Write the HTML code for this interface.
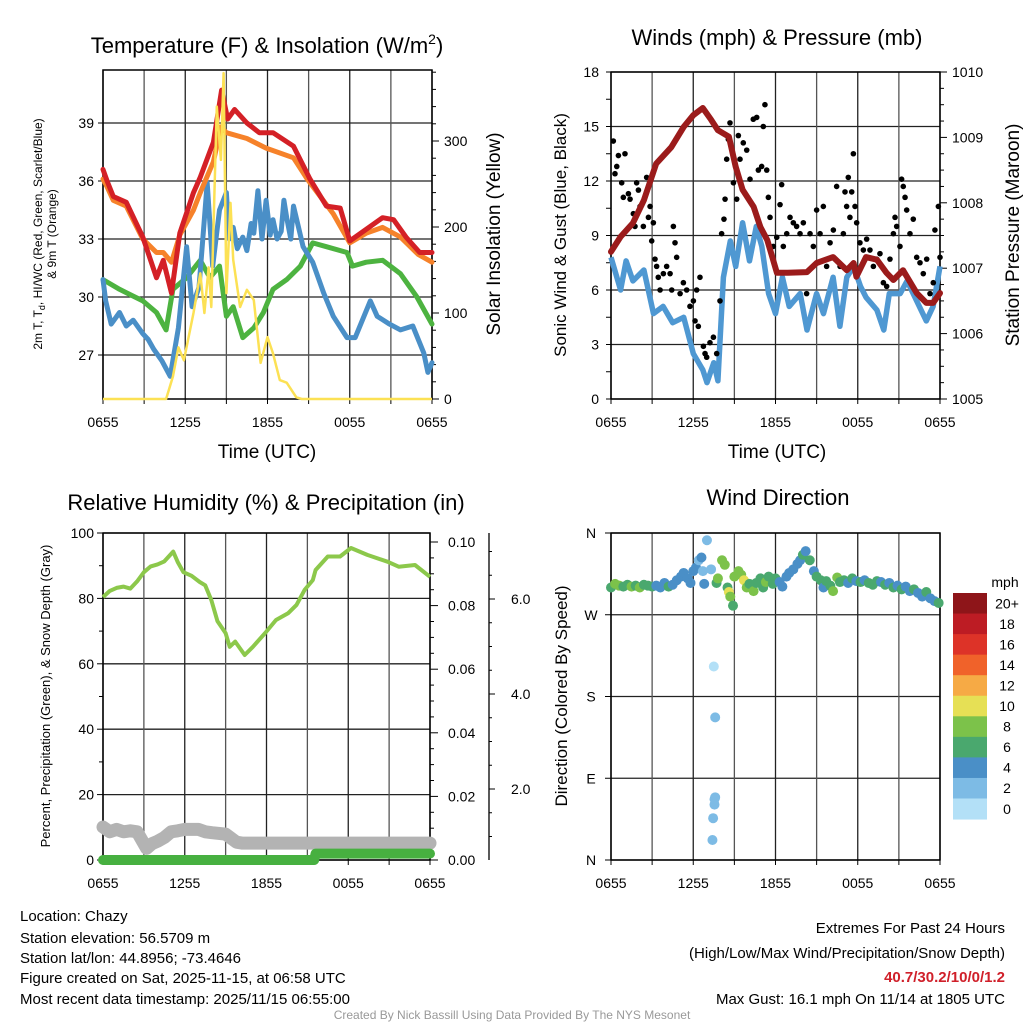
<!DOCTYPE html>
<html><head><meta charset="utf-8">
<style>
html,body{margin:0;padding:0;background:#fff;}
svg{display:block;font-family:"Liberation Sans",sans-serif;}
</style></head>
<body>
<svg id="fig" width="1024" height="1024" viewBox="0 0 1024 1024" xmlns="http://www.w3.org/2000/svg">
<rect width="1024" height="1024" fill="#fff"/>
<text x="267" y="53" font-size="22" text-anchor="middle">Temperature (F) &amp; Insolation (W/m<tspan font-size="14" dy="-9">2</tspan><tspan dy="9">)</tspan></text>
<text x="777" y="45" font-size="22" text-anchor="middle">Winds (mph) &amp; Pressure (mb)</text>
<text x="266" y="510" font-size="22" text-anchor="middle">Relative Humidity (%) &amp; Precipitation (in)</text>
<text x="778" y="505" font-size="22" text-anchor="middle">Wind Direction</text>

<text transform="translate(42,234) rotate(-90)" font-size="12" text-anchor="middle">2m T, T<tspan font-size="9" dy="3">d</tspan><tspan dy="-3">, HI/WC (Red, Green, Scarlet/Blue)</tspan></text>
<text transform="translate(56,234) rotate(-90)" font-size="12" text-anchor="middle">&amp; 9m T (Orange)</text>
<text transform="translate(500,234) rotate(-90)" font-size="19" text-anchor="middle">Solar Insolation (Yellow)</text>
<text x="267" y="458" font-size="19" text-anchor="middle">Time (UTC)</text>
<text transform="translate(566,235) rotate(-90)" font-size="17" text-anchor="middle">Sonic Wind &amp; Gust (Blue, Black)</text>
<text transform="translate(1019,235) rotate(-90)" font-size="19" text-anchor="middle">Station Pressure (Maroon)</text>
<text x="777" y="458" font-size="19" text-anchor="middle">Time (UTC)</text>
<text transform="translate(50,696) rotate(-90)" font-size="13" text-anchor="middle">Percent, Precipitation (Green), &amp; Snow Depth (Gray)</text>
<text transform="translate(567,696) rotate(-90)" font-size="17" text-anchor="middle">Direction (Colored By Speed)</text>

<g id="p1"></g>
<g id="p2"></g>
<g id="p3"></g>
<g id="p4"></g>
<g id="cb"></g>

<g font-size="15">
<text x="20" y="921">Location: Chazy</text>
<text x="20" y="943">Station elevation: 56.5709 m</text>
<text x="20" y="963">Station lat/lon: 44.8956; -73.4646</text>
<text x="20" y="983">Figure created on Sat, 2025-11-15, at 06:58 UTC</text>
<text x="20" y="1004">Most recent data timestamp: 2025/11/15 06:55:00</text>
</g>
<g font-size="15" text-anchor="end">
<text x="1005" y="933">Extremes For Past 24 Hours</text>
<text x="1005" y="958">(High/Low/Max Wind/Precipitation/Snow Depth)</text>
<text x="1005" y="982" fill="#d0202a" font-weight="bold">40.7/30.2/10/0/1.2</text>
<text x="1005" y="1004">Max Gust: 16.1 mph On 11/14 at 1805 UTC</text>
</g>
<text x="512" y="1019" font-size="12" fill="#999" text-anchor="middle">Created By Nick Bassill Using Data Provided By The NYS Mesonet</text>
</svg>
<script>
// ---------- DATA ----------
const timeTicks = ["0655","1255","1855","0055","0655"];
const redH = [0,0.3,0.75,1.7,2.9,3.9,4.4,5.0,5.6,6.6,7.1,8.05,8.65,9.1,9.6,10.5,11.4,12.4,13.9,15.1,16.3,17.3,18.0,19.2,20.4,21.2,22.1,23.1,24];
const redT = [36.6,36.0,35.2,34.9,33.1,31.0,31.9,30.2,33.3,35.4,36.2,38.0,40.7,39.2,39.7,39.0,38.5,38.5,37.8,36.1,34.7,34.6,32.9,33.5,34.1,34.0,33.1,32.3,32.3];
const orgH = [0,0.3,0.75,1.7,2.9,3.9,4.4,5.0,5.6,6.6,7.1,8.05,8.6,9.0,10.5,11.9,13.9,14.9,16.8,18.0,19.2,20.4,21.7,23.0,24];
const orgT = [36.1,35.7,35.0,34.7,33.0,32.3,32.3,31.8,33.2,34.5,35.4,37.0,38.8,38.5,38.2,37.7,37.2,36.1,34.3,32.8,33.3,33.6,33.1,32.2,31.8];
const bluH = [0,0.2,0.6,1.2,1.7,2.2,2.9,3.3,3.7,4.3,4.9,5.5,6.1,6.5,7.0,7.6,8.0,8.5,9.0,9.2,9.5,9.8,10.2,10.5,10.8,11.0,11.3,11.6,11.9,12.2,12.4,12.7,13.0,13.2,13.4,13.7,13.9,14.6,15.3,16.1,16.8,17.8,18.4,19.5,20.0,20.9,21.7,22.6,23.4,23.7,24];
const bluT = [30.9,29.8,28.6,29.2,28.5,28.8,28.1,27.8,27.3,26.7,25.9,28.4,32.6,29.5,30.5,35.9,31.6,34.5,35.4,33.0,33.6,32.5,33.1,32.4,33.8,33.3,35.5,33.0,35.0,33.2,34.0,33.0,33.4,35.0,34.1,33.0,34.7,32.6,31.8,30.2,29.0,27.9,27.9,29.8,29.0,28.6,28.3,28.5,27.1,26.1,26.6];
const grnH = [0,1.2,2.9,3.9,4.6,5.1,6.1,7.1,7.8,8.5,9.0,9.5,10.2,11.0,11.7,12.4,13.4,14.4,15.3,16.3,17.8,18.2,19.2,20.4,21.7,22.9,24];
const grnT = [30.9,30.4,29.8,29.2,28.3,30.4,31.0,31.9,31.0,31.6,29.0,29.5,27.9,28.4,29.2,30.4,30.9,31.6,32.8,32.6,32.3,31.6,31.8,31.9,31.2,30.0,28.6];
const solH = [0,4.6,5.1,5.5,5.9,6.6,7.1,7.4,7.7,7.9,8.3,8.6,8.8,9.0,9.3,9.5,10.0,10.5,11.0,11.5,12.0,12.4,12.9,13.4,14.1,14.5,24];
const solV = [0,0,26,60,45,100,146,100,153,107,340,278,379,123,228,162,107,127,115,42,72,53,22,19,2,0,0];
const tempTicks = [27,30,33,36,39];
const solarTicks = [0,100,200,300];
const sonicH = [0,0.7,1.1,1.6,2.4,3.1,3.8,4.5,5.3,6.0,6.7,7.0,7.5,7.8,8.2,8.7,9.1,9.6,10.1,10.6,11.0,11.5,12.0,12.5,13.0,13.8,14.3,15.0,15.5,16.2,16.7,17.2,17.7,18.2,18.6,19.4,19.9,20.3,21.1,21.6,22.3,23.0,23.5,24];
const sonicV = [7.8,6.0,7.6,6.5,7.1,4.7,5.1,4.2,4.5,2.5,1.6,0.9,2.0,1.0,6.7,8.7,7.3,9.7,7.6,9.5,8.4,5.8,4.7,6.7,5.1,5.8,3.8,5.8,4.7,6.7,4.0,6.7,7.3,6.2,5.6,4.9,3.8,5.8,5.8,6.5,5.4,4.3,5.1,7.3];
const presH = [0,0.7,1.6,2.4,3.3,4.4,5.3,6.0,6.7,7.3,7.8,8.6,9.1,9.6,10.4,10.9,11.4,12.1,12.9,14.3,15.0,16.2,17.2,17.7,17.9,18.6,19.4,20.1,20.6,21.3,22.3,23.0,23.5,24];
const presV = [1007.25,1007.48,1007.69,1008.04,1008.6,1008.85,1009.16,1009.34,1009.45,1009.27,1009.11,1009.01,1008.55,1008.2,1007.94,1007.63,1007.43,1006.93,1006.93,1006.94,1007.08,1007.17,1006.97,1007.08,1006.87,1007.17,1007.13,1006.93,1006.82,1006.97,1006.62,1006.47,1006.47,1006.62];
const gustH = [0.17,0.29,0.42,0.54,0.78,0.90,1.02,1.27,1.39,1.63,1.75,1.87,2.0,2.12,2.36,2.60,2.73,2.85,2.97,3.09,3.21,3.33,3.45,3.58,3.82,4.06,4.31,4.43,4.55,4.67,4.79,5.04,5.28,5.52,5.76,6.01,6.13,6.25,6.37,6.49,6.74,6.86,6.98,7.22,7.47,7.71,7.95,8.07,8.24,8.32,8.44,8.56,8.68,8.93,9.17,9.29,9.41,9.65,9.90,10.14,10.38,10.63,10.75,10.99,11.11,11.23,11.36,11.48,11.60,11.84,12.09,12.33,12.45,12.57,12.82,13.06,13.30,13.54,13.79,14.03,14.27,14.52,14.76,15.00,15.25,15.49,15.73,15.98,16.22,16.46,16.71,16.95,17.07,17.19,17.31,17.43,17.56,17.68,17.80,17.92,18.16,18.41,18.65,18.89,19.14,19.38,19.62,19.87,20.11,20.35,20.60,20.72,20.84,21.08,21.20,21.32,21.45,21.57,21.81,22.05,22.30,22.54,22.78,23.03,23.27,23.51,23.63,23.88,24.0];
const gustV = [14.2,12.4,12.8,13.4,11.9,11.1,13.5,11.3,11.0,10.2,9.5,11.9,11.5,10.6,9.5,12.2,10.0,10.6,8.7,9.7,7.7,7.3,6.7,6.0,6.9,7.3,6.9,6.0,9.5,8.6,7.8,5.8,6.4,6.0,5.1,5.4,4.3,6.0,4.0,6.7,2.9,2.5,2.3,3.1,3.4,2.5,5.4,9.1,9.9,11.0,13.2,14.3,15.2,11.9,11.0,14.5,13.2,14.1,13.7,12.1,15.4,15.5,12.6,12.8,15.0,16.2,12.6,11.1,10.0,8.4,8.9,10.7,11.8,8.4,9.1,10.0,9.7,9.5,9.1,9.7,5.8,9.1,8.4,10.4,9.1,10.6,7.3,8.6,9.3,11.7,7.3,9.1,11.4,10.6,12.2,10.0,11.4,13.5,10.6,9.7,8.6,8.2,8.8,8.2,7.3,7.7,8.0,6.4,6.2,7.7,9.1,10.0,9.5,8.4,12.1,11.7,11.1,10.4,9.1,9.9,7.8,7.5,6.9,7.7,5.8,6.4,9.3,10.6,7.8];
const windTicks = [0,3,6,9,12,15,18];
const presTicks = [1005,1006,1007,1008,1009,1010];
const rhH = [0,0.5,1,1.5,2,2.5,3,3.5,4,4.5,5.15,5.5,5.9,6.5,7.1,7.5,7.95,8.4,9.0,9.3,9.7,10.4,11.0,11.9,12.7,13.6,14.2,14.8,15.4,15.6,16.5,17.4,18.2,19.4,20.9,21.7,22.9,24];
const rhV = [80.4,82.3,83.2,83.6,83.0,85.2,88.0,89.8,90.4,91.3,94.3,91,88.0,86.9,85.0,84.0,79.5,73.0,69.4,65.2,66.8,62.7,65.2,69.4,73.4,75.5,78.0,82.6,85.6,88.7,92.8,92.8,95.4,93.3,91.2,89.7,90.2,86.6];
const snowH = [0,0.5,1,1.5,2,2.5,3.2,3.6,4,4.5,5,5.5,6,7,7.5,8,9,9.8,10.2,24];
const snowV = [1.2,1.1,1.15,1.1,1.12,1.1,0.75,0.85,0.9,0.98,1.1,1.12,1.15,1.15,1.1,1.08,1.05,0.88,0.86,0.86];
const precH = [0,15.5,15.6,24];
const precV = [0,0,0.002,0.002];
const rhTicks = [0,20,40,60,80,100];
const precTicks = [0,0.02,0.04,0.06,0.08,0.10];
const snowTicks = [2,4,6];
const dirH = [0,0.3,0.6,0.9,1.2,1.5,1.8,2.1,2.4,2.7,3.0,3.3,3.6,3.9,4.2,4.5,4.8,5.1,5.3,5.6,5.8,6.0,6.2,6.4,6.6,6.7,6.8,7.0,7.3,7.5,7.6,7.6,7.55,7.45,7.4,7.55,7.7,7.8,8.1,8.3,8.5,8.6,8.7,8.9,9.0,9.3,9.5,9.7,9.9,10.1,10.4,10.6,10.9,11.1,11.3,11.5,11.8,12.0,12.3,12.5,12.8,13.0,13.3,13.6,13.8,14.0,14.2,14.5,14.8,15.0,15.3,15.5,15.7,16.0,16.2,16.5,16.7,17.0,17.3,17.6,17.9,18.2,18.5,18.8,19.1,19.4,19.7,20.0,20.3,20.6,20.9,21.2,21.5,21.8,22.1,22.4,22.7,23.0,23.3,23.6,23.9];
const dirV = [300,304,302,301,303,301,302,300,303,302,301,302,300,305,301,303,308,312,316,310,305,318,322,330,333,318,304,352,320,213,157,69,61,46,22,67,305,310,330,325,300,295,290,280,312,318,314,308,300,304,296,305,310,300,306,312,304,310,306,301,312,316,320,326,330,336,340,330,318,312,308,300,307,302,296,311,306,308,305,310,307,306,308,305,303,307,306,303,305,300,302,298,301,296,298,294,290,295,288,285,283];
const dirSpd = [6,8,7,6,6,7,6,8,6,6,6,4,4,4,6,4,4,4,4,4,3,3,3,2,3,2,3,1,2,0,1,2,1,1,1,2,6,8,8,8,6,10,8,6,8,8,8,10,8,6,8,6,6,6,8,6,6,6,4,4,4,4,4,4,4,6,4,6,4,6,6,4,6,6,8,8,6,6,4,6,4,6,4,6,6,6,4,6,4,6,4,6,4,4,6,4,4,6,4,4,6];
const cbLabels = ["20+","18","16","14","12","10","8","6","4","2","0"];
const cbColors = ["#8e1519","#bd1c24","#dd3328","#f0622a","#f6aa45","#e6e055","#7cc24a","#4aa86e","#4a8fc7","#7dbbe5","#b3e0f7"];
const dirTicks = ["N","W","S","E","N"];

const NS = "http://www.w3.org/2000/svg";
function mk(parent, tag, attrs, name) {
  const e = document.createElementNS(NS, tag);
  for (const k in attrs) e.setAttribute(k, attrs[k]);
  
  
  parent.appendChild(e);
  return e;
}
function txt(parent, x, y, s, size, anchor, name) {
  const t = mk(parent, 'text', {x: x, y: y, 'font-size': size, 'text-anchor': anchor}, name);
  t.textContent = s;
  return t;
}
function lin(d0, d1, r0, r1) { return v => r0 + (v - d0) / (d1 - d0) * (r1 - r0); }
function pathOf(xs, ys, fx, fy) {
  return xs.map((h, i) => (i ? "L" : "M") + fx(h).toFixed(1) + "," + fy(ys[i]).toFixed(1)).join("");
}
function frame(g, x0, x1, y0, y1, fx, prefix) {
  for (let h = 0; h <= 24; h += 3) {
    mk(g, 'line', {x1: fx(h), x2: fx(h), y1: y0, y2: y1, stroke: h % 6 ? '#555' : '#222', 'stroke-width': 1.3}, prefix + '-vgrid');
    mk(g, 'line', {x1: fx(h), x2: fx(h), y1: y1, y2: y1 + 5, stroke: '#000', 'stroke-width': 1}, prefix + '-x-tick');
  }
  timeTicks.forEach((s, i) => txt(g, fx(i * 6), y1 + 28, s, 14, 'middle', prefix + '-x-tick-label'));
  mk(g, 'rect', {x: x0, y: y0, width: x1 - x0, height: y1 - y0, fill: 'none', stroke: '#000', 'stroke-width': 1.5}, prefix + '-frame');
}

(function () {
  const g = document.getElementById('p1');
  const X0 = 103, X1 = 432, Y0 = 70, Y1 = 399;
  const fx = lin(0, 24, X0, X1);
  const fT = lin(27, 39, 355, 123);
  const fS = lin(0, 300, 399, 141);
  tempTicks.forEach(t => {
    mk(g, 'line', {x1: X0, x2: X1, y1: fT(t), y2: fT(t), stroke: '#222', 'stroke-width': 1.3}, 'temp-hgrid');
    mk(g, 'line', {x1: X0 - 5, x2: X0, y1: fT(t), y2: fT(t), stroke: '#000'}, 'temp-y-tick');
    txt(g, X0 - 9, fT(t) + 5, String(t), 14, 'end', 'temp-y-tick-label');
  });
  for (let s = 0; s <= 380; s += 20) {
    mk(g, 'line', {x1: X1, x2: X1 + (s % 100 ? 4 : 7), y1: fS(s), y2: fS(s), stroke: '#000'}, 'solar-y-tick');
  }
  solarTicks.forEach(s => txt(g, X1 + 12, fS(s) + 5, String(s), 14, 'start', 'solar-y-tick-label'));
  frame(g, X0, X1, Y0, Y1, fx, 'temp');
  mk(g, 'path', {d: pathOf(grnH, grnT, fx, fT), fill: 'none', stroke: '#4db340', 'stroke-width': 5, 'stroke-linejoin': 'round', 'stroke-linecap': 'round'}, 'hi-wc-line');
  mk(g, 'path', {d: pathOf(bluH, bluT, fx, fT), fill: 'none', stroke: '#4a8fc7', 'stroke-width': 5, 'stroke-linejoin': 'round', 'stroke-linecap': 'round'}, 'dewpoint-line');
  mk(g, 'path', {d: pathOf(orgH, orgT, fx, fT), fill: 'none', stroke: '#f6822a', 'stroke-width': 5, 'stroke-linejoin': 'round', 'stroke-linecap': 'round'}, 'temp-9m-line');
  mk(g, 'path', {d: pathOf(redH, redT, fx, fT), fill: 'none', stroke: '#d42026', 'stroke-width': 5, 'stroke-linejoin': 'round', 'stroke-linecap': 'round'}, 'temp-2m-line');
  mk(g, 'path', {d: pathOf(solH, solV, fx, fS), fill: 'none', stroke: '#fce154', 'stroke-width': 2.5, 'stroke-linejoin': 'round'}, 'solar-line');
})();

(function () {
  const g = document.getElementById('p2');
  const X0 = 611, X1 = 940, Y0 = 72, Y1 = 399;
  const fx = lin(0, 24, X0, X1);
  const fW = lin(0, 18, Y1, Y0);
  const fP = lin(1005, 1010, Y1, Y0);
  windTicks.forEach(w => {
    mk(g, 'line', {x1: X0, x2: X1, y1: fW(w), y2: fW(w), stroke: '#222', 'stroke-width': 1.3}, 'wind-hgrid');
    txt(g, X0 - 12, fW(w) + 5, String(w), 14, 'end', 'wind-y-tick-label');
  });
  for (let w = 0; w <= 18; w += 1.5) mk(g, 'line', {x1: X0 - 5, x2: X0, y1: fW(w), y2: fW(w), stroke: '#000'}, 'wind-y-tick');
  for (let p = 1005; p <= 1010.001; p += 0.25) mk(g, 'line', {x1: X1, x2: X1 + (Math.abs(p - Math.round(p)) < 0.01 ? 7 : 4), y1: fP(p), y2: fP(p), stroke: '#000'}, 'pressure-y-tick');
  presTicks.forEach(p => txt(g, X1 + 12, fP(p) + 5, String(p), 14, 'start', 'pressure-y-tick-label'));
  frame(g, X0, X1, Y0, Y1, fx, 'wind');
  mk(g, 'path', {d: pathOf(sonicH, sonicV, fx, fW), fill: 'none', stroke: '#4f98d2', 'stroke-width': 5.5, 'stroke-linejoin': 'round'}, 'sonic-wind-line');
  gustH.forEach((h, i) => {
    mk(g, 'circle', {cx: fx(h), cy: fW(gustV[i]), r: 2.8, fill: '#000'}, 'gust-point');
  });
  mk(g, 'path', {d: pathOf(presH, presV, fx, fP), fill: 'none', stroke: '#9b1b1b', 'stroke-width': 6, 'stroke-linejoin': 'round', 'stroke-linecap': 'round'}, 'pressure-line');
})();

(function () {
  const g = document.getElementById('p3');
  const X0 = 103, X1 = 430, Y0 = 533, Y1 = 860;
  const fx = lin(0, 24, X0, X1);
  const fR = lin(0, 100, Y1, Y0);
  const fPr = lin(0, 0.1, 860, 542);
  const fSn = lin(2, 6, 789, 599);
  rhTicks.forEach(r => {
    mk(g, 'line', {x1: X0, x2: X1, y1: fR(r), y2: fR(r), stroke: '#222', 'stroke-width': 1.3}, 'rh-hgrid');
    mk(g, 'line', {x1: X0 - 6, x2: X0, y1: fR(r), y2: fR(r), stroke: '#000'}, 'rh-y-tick');
    txt(g, X0 - 9, fR(r) + 5, String(r), 14, 'end', 'rh-y-tick-label');
  });
  for (let r = 10; r < 100; r += 20) mk(g, 'line', {x1: X0 - 4, x2: X0, y1: fR(r), y2: fR(r), stroke: '#000'}, 'rh-y-minor-tick');
  for (let k = 0; k <= 20; k++) {
    const p = k * 0.005;
    mk(g, 'line', {x1: X1, x2: X1 + (k % 4 ? 4 : 8), y1: fPr(p), y2: fPr(p), stroke: '#000'}, 'precip-y-tick');
  }
  precTicks.forEach(p => txt(g, X1 + 18, fPr(p) + 5, p.toFixed(2), 14, 'start', 'precip-y-tick-label'));
  mk(g, 'line', {x1: 489, x2: 489, y1: Y0, y2: Y1, stroke: '#000', 'stroke-width': 1.3}, 'snow-axis-line');
  for (let s = 0.5; s <= 7; s += 0.5) {
    const y = fSn(s);
    if (y < Y0 || y > Y1) continue;
    mk(g, 'line', {x1: 489, x2: 489 + (s % 2 === 0 ? 6 : 3), y1: y, y2: y, stroke: '#000'}, 'snow-y-tick');
  }
  snowTicks.forEach(s => txt(g, 511, fSn(s) + 5, s.toFixed(1), 14, 'start', 'snow-y-tick-label'));
  frame(g, X0, X1, Y0, Y1, fx, 'rh');
  mk(g, 'path', {d: pathOf(snowH, snowV, fx, fSn), fill: 'none', stroke: '#b3b3b3', 'stroke-width': 13, 'stroke-linejoin': 'round', 'stroke-linecap': 'round'}, 'snow-depth-line');
  mk(g, 'path', {d: pathOf(precH, precV, fx, fPr), fill: 'none', stroke: '#47b040', 'stroke-width': 10, 'stroke-linejoin': 'round', 'stroke-linecap': 'round'}, 'precip-line');
  mk(g, 'path', {d: pathOf(rhH, rhV, fx, fR), fill: 'none', stroke: '#8cc84b', 'stroke-width': 4, 'stroke-linejoin': 'round'}, 'rh-line');
})();

(function () {
  const g = document.getElementById('p4');
  const X0 = 611, X1 = 940, Y0 = 533, Y1 = 860;
  const fx = lin(0, 24, X0, X1);
  const fD = lin(0, 360, Y1, Y0);
  dirTicks.forEach((s, i) => {
    const y = fD(360 - i * 90);
    mk(g, 'line', {x1: X0, x2: X1, y1: y, y2: y, stroke: '#222', 'stroke-width': 1.3}, 'dir-hgrid');
    mk(g, 'line', {x1: X0 - 6, x2: X0, y1: y, y2: y, stroke: '#000'}, 'dir-y-tick');
    txt(g, X0 - 20, y + 5, s, 14, 'middle', 'dir-y-tick-label');
  });
  frame(g, X0, X1, Y0, Y1, fx, 'dir');
  dirH.forEach((h, i) => {
    const idx = 10 - Math.min(10, Math.round(dirSpd[i] / 2));
    mk(g, 'circle', {cx: fx(h), cy: fD(dirV[i]), r: 5, fill: cbColors[idx]}, 'direction-point');
  });
})();

(function () {
  const g = document.getElementById('cb');
  const top = 593, seg = 20.55;
  txt(g, 1005, 587, 'mph', 14, 'middle', 'colorbar-title');
  cbColors.forEach((c, i) => {
    mk(g, 'rect', {x: 953, y: top + i * seg, width: 34, height: seg + 0.5, fill: c}, 'colorbar-swatch');
    txt(g, 1007, top + i * seg + seg / 2 + 5, cbLabels[i], 14, 'middle', 'colorbar-label');
  });
})();
</script>
</body></html>
